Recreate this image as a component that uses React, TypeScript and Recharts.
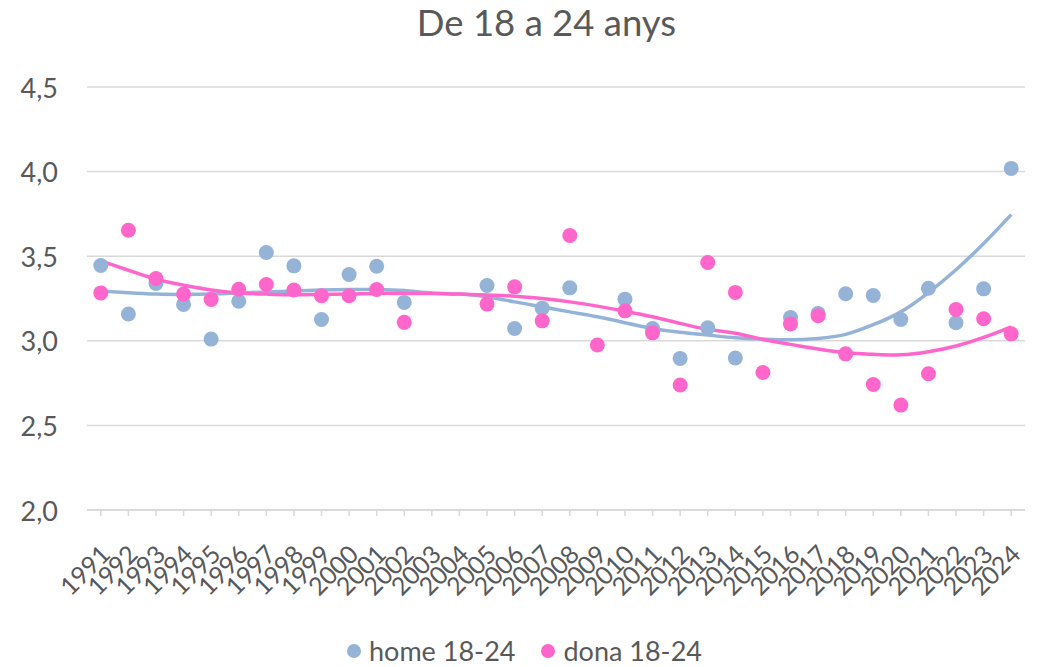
import { ComposedChart, Line, XAxis, YAxis, CartesianGrid, Legend } from "recharts";

const years = [
  "1991", "1992", "1993", "1994", "1995", "1996", "1997", "1998", "1999", "2000",
  "2001", "2002", "2003", "2004", "2005", "2006", "2007", "2008", "2009", "2010",
  "2011", "2012", "2013", "2014", "2015", "2016", "2017", "2018", "2019", "2020",
  "2021", "2022", "2023", "2024",
];

// valors llegits del gràfic (null = sense punt visible)
const home = [
  3.445, 3.158, 3.339, 3.215, 3.01, 3.234, 3.522, 3.443, 3.126, 3.392,
  3.441, 3.227, null, null, 3.327, 3.073, 3.193, 3.313, null, 3.246,
  3.073, 2.896, 3.077, 2.898, null, 3.138, 3.162, 3.278, 3.268, 3.126,
  3.311, 3.107, 3.307, 4.019,
];
const dona = [
  3.283, 3.653, 3.368, 3.276, 3.244, 3.305, 3.333, 3.3, 3.266, 3.266,
  3.303, 3.109, null, null, 3.217, 3.319, 3.118, 3.622, 2.975, 3.177,
  3.047, 2.739, 3.463, 3.286, 2.813, 3.1, 3.148, 2.923, 2.742, 2.62,
  2.805, 3.185, 3.13, 3.041,
];

// línies de tendència (polinòmiques a l'original), llegides any a any
const trendHome = [
  3.295, 3.284, 3.276, 3.274, 3.276, 3.282, 3.289, 3.295, 3.3, 3.303,
  3.303, 3.297, 3.283, 3.276, 3.26, 3.23, 3.201, 3.171, 3.142, 3.107,
  3.073, 3.05, 3.034, 3.018, 3.01, 3.006, 3.014, 3.038, 3.095, 3.171,
  3.285, 3.42, 3.575, 3.746,
];
const trendDona = [
  3.472, 3.417, 3.364, 3.329, 3.3, 3.283, 3.276, 3.272, 3.274, 3.276,
  3.28, 3.28, 3.28, 3.276, 3.27, 3.264, 3.25, 3.23, 3.205, 3.175,
  3.142, 3.103, 3.068, 3.045, 3.008, 2.979, 2.951, 2.929, 2.92, 2.917,
  2.935, 2.969, 3.02, 3.083,
];

const yTicks = [2, 2.5, 3, 3.5, 4, 4.5];

const COLOR_HOME = "#95B3D7";
const COLOR_DONA = "#FF66CC";
const TEXT = "#595959";
const GRID = "#D9D9D9";
const FONT = "Lato, 'Open Sans', sans-serif";

const data = years.map((y, i) => ({
  year: y,
  home: home[i],
  dona: dona[i],
  trendHome: trendHome[i],
  trendDona: trendDona[i],
}));

function XTick(props: any) {
  const { x, y, payload } = props;
  const ax = x + 11;
  const ay = y + 38;
  return (
    <text
      x={ax}
      y={ay}
      textAnchor="end"
      fill={TEXT}
      fontSize={25}
      fontFamily={FONT}
      transform={`rotate(-45, ${ax}, ${ay})`}
    >
      {payload.value}
    </text>
  );
}

function YTick(props: any) {
  const { y, payload } = props;
  return (
    <text x={58} y={y} textAnchor="end" dominantBaseline="central" fill={TEXT} fontSize={27} fontFamily={FONT}>
      {payload.value.toFixed(1).replace(".", ",")}
    </text>
  );
}

function LegendContent() {
  const items = [
    { name: "home 18-24", color: COLOR_HOME },
    { name: "dona 18-24", color: COLOR_DONA },
  ];
  return (
    <div
      style={{
        display: "flex",
        justifyContent: "center",
        gap: 26,
        paddingTop: 10,
        paddingLeft: 24,
        fontFamily: FONT,
        fontSize: 27,
        lineHeight: "28px",
        color: TEXT,
      }}
    >
      {items.map((it) => (
        <div key={it.name} style={{ display: "flex", alignItems: "center" }}>
          <span style={{ width: 14, height: 14, borderRadius: "50%", background: it.color, marginRight: 8, display: "inline-block" }} />
          {it.name}
        </div>
      ))}
    </div>
  );
}

export default function App() {
  return (
    <div style={{ position: "absolute", left: 0, top: 0, width: 1039, height: 667, background: "#fff" }}>
      <div
        style={{
          position: "absolute",
          left: 27,
          top: 0,
          width: 1039,
          textAlign: "center",
          fontFamily: FONT,
          fontSize: 36.5,
          color: TEXT,
        }}
      >
        De 18 a 24 anys
      </div>
      <ComposedChart width={1039} height={667} data={data} margin={{ top: 87, right: 14, left: 0, bottom: 0 }}>
        <CartesianGrid vertical={false} stroke={GRID} strokeWidth={1.5} />
        <XAxis
          dataKey="year"
          scale="band"
          interval={0}
          height={117}
          stroke={GRID}
          strokeWidth={1.5}
          tickSize={6}
          tick={<XTick />}
        />
        <YAxis
          width={87}
          domain={[2, 4.5]}
          ticks={yTicks}
          axisLine={false}
          tickLine={false}
          tick={<YTick />}
        />
        <Legend verticalAlign="bottom" height={40} content={<LegendContent />} />
        <Line dataKey="trendHome" type="natural" stroke={COLOR_HOME} strokeWidth={3.5} dot={false} activeDot={false} isAnimationActive={false} legendType="none" />
        <Line dataKey="trendDona" type="natural" stroke={COLOR_DONA} strokeWidth={3.5} dot={false} activeDot={false} isAnimationActive={false} legendType="none" />
        <Line
          dataKey="home"
          stroke="none"
          dot={{ r: 7.5, fill: COLOR_HOME, stroke: "none" }}
          activeDot={false}
          isAnimationActive={false}
        />
        <Line
          dataKey="dona"
          stroke="none"
          dot={{ r: 7.5, fill: COLOR_DONA, stroke: "none" }}
          activeDot={false}
          isAnimationActive={false}
        />
      </ComposedChart>
    </div>
  );
}
